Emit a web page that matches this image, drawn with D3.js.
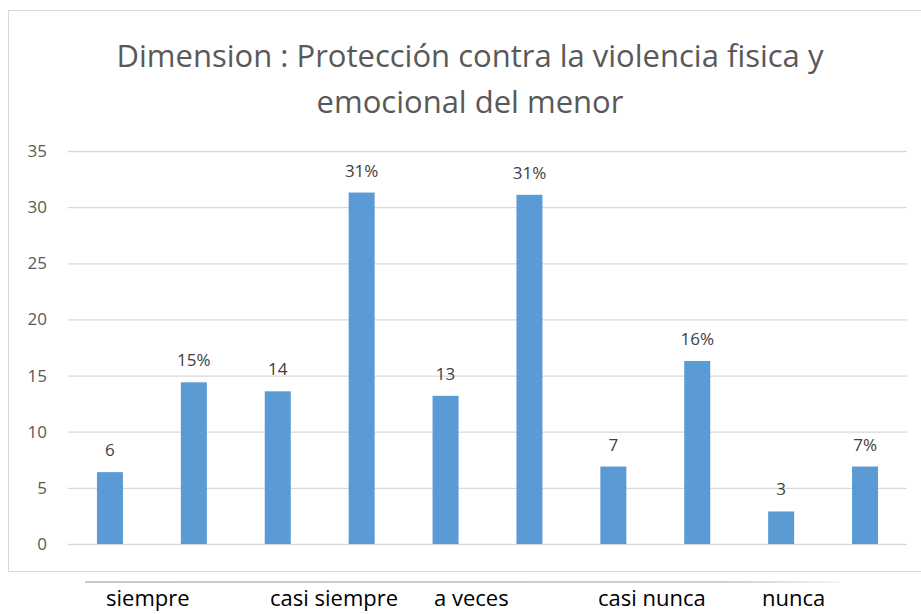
<!DOCTYPE html>
<html>
<head>
<meta charset="utf-8">
<script src="https://cdn.jsdelivr.net/npm/d3@7"></script>
<style>
	body { margin: 0; background: #fff; }
	svg { display: block; }
</style>
</head>
<body>
<script>
// categories of the answer scale, each one has a count bar and a percent bar
var categories = ['siempre', 'casi siempre', 'a veces', 'casi nunca', 'nunca'];
var countValues = [6.4, 13.6, 13.2, 6.9, 2.9];
var countLabels = ['6', '14', '13', '7', '3'];
var percentValues = [14.4, 31.3, 31.1, 16.3, 6.9];
var percentLabels = ['15%', '31%', '31%', '16%', '7%'];
var yTicks = [0, 5, 10, 15, 20, 25, 30, 35];
var titleLines = ['Dimension : Protección contra la violencia fisica y', 'emocional del menor'];

var width = 921, height = 614;
var font = 'Open Sans, sans-serif';

// flatten into the 10 bars in drawing order
var bars = [];
categories.forEach(function (c, i) {
	bars.push({ key: c + '-n', value: countValues[i], label: countLabels[i] });
	bars.push({ key: c + '-p', value: percentValues[i], label: percentLabels[i] });
});

var svg = d3.select('body').append('svg')
	.attr('width', width)
	.attr('height', height);

// chart frame
svg.append('rect')
	.attr('x', 8.5).attr('y', 10.5)
	.attr('width', 930).attr('height', 561)
	.attr('fill', '#fff')
	.attr('stroke', '#d9d9d9');

// title
svg.selectAll('.title').data(titleLines).enter().append('text')
	.attr('class', 'title')
	.attr('x', 470)
	.attr('y', function (d, i) { return 67 + i * 46; })
	.attr('text-anchor', 'middle')
	.attr('font-family', font)
	.attr('font-size', 31)
	.attr('fill', '#595959')
	.text(function (d) { return d; });

var x = d3.scaleBand()
	.domain(bars.map(function (d) { return d.key; }))
	.range([68, 907])
	.paddingInner(0.69)
	.paddingOuter(0.345);

var y = d3.scaleLinear()
	.domain([0, 35])
	.range([544, 151]);

// gridlines + y labels
var yAxis = svg.append('g')
	.attr('transform', 'translate(68,0)')
	.call(d3.axisLeft(y).tickValues(yTicks).tickSize(-(907 - 68)).tickPadding(21));
yAxis.select('.domain').remove();
yAxis.selectAll('.tick line').attr('stroke', '#d9d9d9').attr('stroke-width', 1.3);
yAxis.selectAll('.tick text')
	.attr('font-family', font)
	.attr('font-size', 17)
	.attr('fill', '#595959');

// bars
svg.selectAll('.bar').data(bars).enter().append('rect')
	.attr('class', 'bar')
	.attr('x', function (d) { return x(d.key); })
	.attr('y', function (d) { return y(d.value); })
	.attr('width', x.bandwidth())
	.attr('height', function (d) { return y(0) - y(d.value); })
	.attr('fill', '#5b9bd5');

// value labels
svg.selectAll('.value').data(bars).enter().append('text')
	.attr('class', 'value')
	.attr('x', function (d) { return x(d.key) + x.bandwidth() / 2; })
	.attr('y', function (d) { return y(d.value) - 16; })
	.attr('text-anchor', 'middle')
	.attr('font-family', font)
	.attr('font-size', 17)
	.attr('fill', '#404040')
	.text(function (d) { return d.label; });

// category row under the chart
var cat = d3.scaleBand()
	.domain(categories)
	.range([106, 926]);

var lineGrad = svg.append('defs').append('linearGradient')
	.attr('id', 'fade');
lineGrad.append('stop').attr('offset', '0%').attr('stop-color', '#c8c8c8');
lineGrad.append('stop').attr('offset', '85%').attr('stop-color', '#d0d0d0');
lineGrad.append('stop').attr('offset', '100%').attr('stop-color', '#f4f4f4');

svg.append('rect')
	.attr('x', 85).attr('y', 581)
	.attr('width', 755).attr('height', 2)
	.attr('fill', 'url(#fade)');

svg.selectAll('.cat').data(categories).enter().append('text')
	.attr('class', 'cat')
	.attr('x', function (d) { return cat(d); })
	.attr('y', 606)
	.attr('font-family', font)
	.attr('font-size', 22)
	.attr('fill', '#000')
	.text(function (d) { return d; });
</script>
</body>
</html>
